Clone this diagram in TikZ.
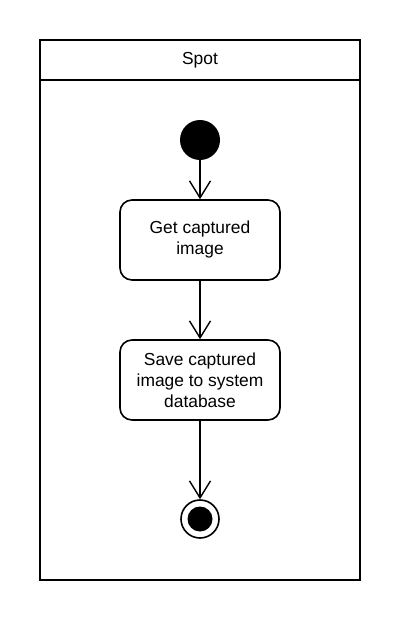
\documentclass[tikz,border=0pt]{standalone}
\usepackage{fontspec}
\setmainfont{Liberation Sans}
\usetikzlibrary{arrows.meta}
\tikzset{
  lanebox/.style={draw, line width=1.8pt, minimum width=320pt, inner sep=0pt},
  actbox/.style={draw, line width=1.6pt, rounded corners=12pt, minimum width=160pt, minimum height=80pt, align=center, inner sep=0pt, font=\fontsize{17.4}{21}\selectfont},
  startdot/.style={circle, fill=black, minimum size=40pt, inner sep=0pt},
  endring/.style={circle, draw, line width=1.6pt, fill=white, minimum size=38pt, inner sep=0pt},
  enddot/.style={circle, fill=black, minimum size=25pt, inner sep=0pt},
  flow/.style={line width=1.4pt, -{Straight Barb[length=17pt,width=21pt]}},
}
\begin{document}
\begin{tikzpicture}[x=1pt,y=-1pt]
\useasboundingbox (0,0) rectangle (400,620);
\node[lanebox, minimum height=540pt] (lane) at (200,310) {};
\node[lanebox, minimum height=40pt, font=\fontsize{17.4}{21}\selectfont] (hdr) at (200,60) {Spot};
\node[startdot] (start) at (200,140) {};
\node[actbox] (a1) at (200,240) {Get captured\\image};
\node[actbox] (a2) at (200,380) {Save captured\\image to system\\database};
\node[endring] (endc) at (200,519) {};
\node[enddot] (endd) at (200,519) {};
\draw[flow] (start) -- (a1);
\draw[flow] (a1) -- (a2);
\draw[flow] (a2) -- (endc);
\end{tikzpicture}
\end{document}
